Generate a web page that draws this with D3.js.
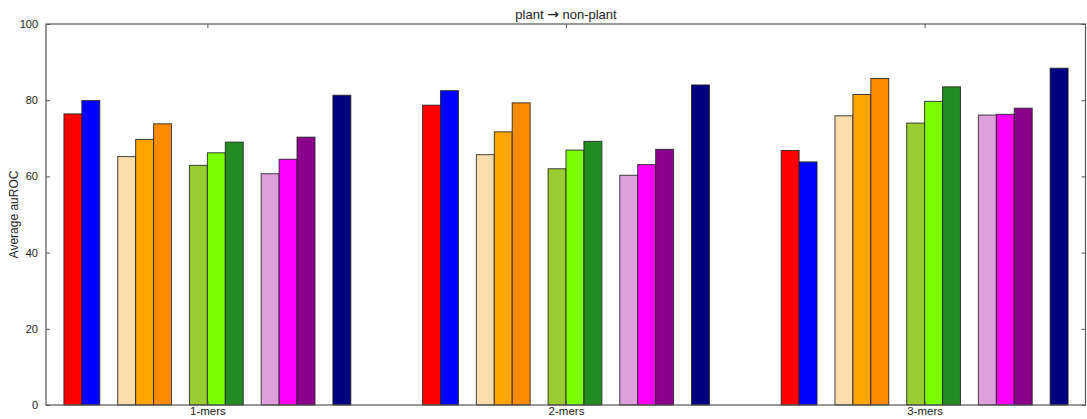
<!DOCTYPE html>
<html>
<head>
<meta charset="utf-8">
<script src="https://cdn.jsdelivr.net/npm/d3@7"></script>
<style>
  body { margin: 0; background: #fff; }
  svg text { font-family: "Liberation Sans", Arial, sans-serif; fill: #222; }
</style>
</head>
<body>
<div id="chart"></div>
<script>
// groups on the x axis
var groups = ['1-mers', '2-mers', '3-mers']
// slot of each bar inside a group (empty slots make the gaps)
var slots = [0, 1, 3, 4, 5, 7, 8, 9, 11, 12, 13, 15]
var colors = ['red', 'blue', 'navajowhite', 'orange', 'darkorange',
    'yellowgreen', 'lawngreen', 'forestgreen', 'plum', 'magenta', 'darkmagenta', 'navy']
// average auROC, one array per group, in bar order
var mers1 = [76.4, 79.9, 65.2, 69.7, 73.8, 62.9, 66.2, 69.0, 60.7, 64.5, 70.3, 81.3]
var mers2 = [78.7, 82.5, 65.7, 71.7, 79.3, 62.0, 66.9, 69.2, 60.3, 63.1, 67.1, 84.0]
var mers3 = [66.8, 63.8, 75.9, 81.5, 85.7, 74.0, 79.7, 83.5, 76.1, 76.3, 77.9, 88.4]
var yTicks = [0, 20, 40, 60, 80, 100]
var values = [mers1, mers2, mers3]

var width = 1087, height = 419
var margin = { left: 46, right: 1, top: 24, bottom: 14 }
var barW = 0.05

var svg = d3.select('#chart').append('svg').attr('width', width).attr('height', height)

var x = d3.scaleLinear().domain([-0.05, 2.85]).range([margin.left, width - margin.right])
var y = d3.scaleLinear().domain([0, 100]).range([height - margin.bottom, margin.top])

var data = []
values.forEach(function(arr, g) {
    arr.forEach(function(v, i) {
        data.push({ g: g, slot: slots[i], color: colors[i], v: v })
    })
})

svg.selectAll('.bar').data(data).enter().append('rect')
    .attr('class', 'bar')
    .attr('x', function(d) { return x(d.g + d.slot * barW) })
    .attr('width', function(d) { return x(barW) - x(0) })
    .attr('y', function(d) { return y(d.v) })
    .attr('height', function(d) { return y(0) - y(d.v) })
    .style('fill', function(d) { return d.color })
    .style('stroke', '#222')
    .style('stroke-width', 1)
    .style('stroke-opacity', 0.85)

// axes, matplotlib classic style: ticks point inward on all four sides
var tickPos = groups.map(function(d, i) { return i + 0.4 })
var xB = d3.axisBottom(x).tickValues(tickPos).tickFormat(function(d, i) { return groups[i] }).tickSizeInner(-4).tickSizeOuter(0).tickPadding(3)
var xT = d3.axisTop(x).tickValues(tickPos).tickFormat('').tickSizeInner(-4).tickSizeOuter(0)
var yL = d3.axisLeft(y).tickValues(yTicks).tickSizeInner(-4).tickSizeOuter(0).tickPadding(8)
var yR = d3.axisRight(y).tickValues(yTicks).tickFormat('').tickSizeInner(-4).tickSizeOuter(0)

function style(g) {
    g.select('.domain').remove()
    g.selectAll('line').attr('stroke', '#555')
    g.selectAll('text').style('font-size', '11px').style('fill', '#222')
}
svg.append('g').attr('transform', 'translate(0,' + y(0) + ')').call(xB).call(style)
    .selectAll('text').attr('dy', '0.62em').style('font-size', '11.5px')
svg.append('g').attr('transform', 'translate(0,' + y(100) + ')').call(xT).call(style)
svg.append('g').attr('transform', 'translate(' + x.range()[0] + ',0)').call(yL).call(style)
svg.append('g').attr('transform', 'translate(' + (x.range()[1] - 0.5) + ',0)').call(yR).call(style)

// frame
svg.append('rect')
    .attr('x', x.range()[0]).attr('y', y(100))
    .attr('width', x.range()[1] - x.range()[0] - 0.5).attr('height', y(0) - y(100))
    .style('fill', 'none').style('stroke', '#555').style('stroke-width', 1.2)

var title = svg.append('text')
    .attr('x', (x.range()[0] + x.range()[1]) / 2).attr('y', 19)
    .attr('text-anchor', 'middle').style('font-size', '13px')
title.append('tspan').text('plant ')
title.append('tspan').style('font-family', '"DejaVu Sans"').style('font-size', '14px').text('\u2192')
title.append('tspan').text(' non-plant')

svg.append('text')
    .attr('transform', 'translate(18,' + (y(0) + y(100)) / 2 + ') rotate(-90)')
    .attr('text-anchor', 'middle').style('font-size', '12px')
    .text('Average auROC')
</script>
</body>
</html>
